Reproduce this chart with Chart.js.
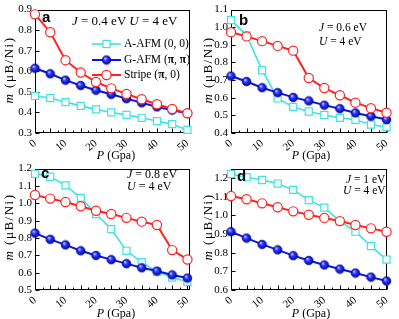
<!DOCTYPE html>
<html lang="en">
<head>
  <meta charset="UTF-8">
  <title>Magnetic moment vs pressure</title>
  <script src="https://cdn.jsdelivr.net/npm/chart.js"></script>
  <style>
    body {
      margin: 0;
      padding: 0;
      background: #fff;
      font-family: 'Liberation Serif', serif;
    }
    #wrap {
      position: relative;
      width: 399px;
      height: 319px;
      overflow: hidden;
    }
    canvas {
      position: absolute;
    }
    .txt {
      position: absolute;
      white-space: nowrap;
      color: #000;
      line-height: 1;
    }
    .ytitle {
      font-size: 13px;
      letter-spacing: 1.5px;
      transform: translate(-50%, -50%) rotate(-90deg);
    }
    .xtitle {
      font-size: 12px;
      transform: translate(-50%, -50%);
    }
    .tag {
      font-family: 'Liberation Sans', sans-serif;
      font-weight: bold;
      font-size: 15px;
    }
    .leg {
      font-size: 11.5px;
      transform: translateY(-50%);
    }
  </style>
</head>
<body>
  <div id="wrap">
    <canvas id="chartA" width="200" height="160" style="left:0;top:0"></canvas>
    <canvas id="chartB" width="200" height="160" style="left:199px;top:0"></canvas>
    <canvas id="chartC" width="200" height="160" style="left:0;top:159px"></canvas>
    <canvas id="chartD" width="200" height="160" style="left:199px;top:159px"></canvas>

    <div class="txt ytitle" style="left:8px;top:70px"><i>m</i> (μB/Ni)</div>
    <div class="txt ytitle" style="left:207px;top:70px"><i>m</i> (μB/Ni)</div>
    <div class="txt ytitle" style="left:8px;top:227px"><i>m</i> (μB/Ni)</div>
    <div class="txt ytitle" style="left:207px;top:227px"><i>m</i> (μB/Ni)</div>

    <div class="txt xtitle" style="left:116px;top:155px"><i>P</i> (Gpa)</div>
    <div class="txt xtitle" style="left:311px;top:155px"><i>P</i> (Gpa)</div>
    <div class="txt xtitle" style="left:116px;top:313px"><i>P</i> (Gpa)</div>
    <div class="txt xtitle" style="left:311px;top:313px"><i>P</i> (Gpa)</div>

    <div class="txt tag" style="left:42px;top:9px">a</div>
    <div class="txt tag" style="left:239px;top:12px">b</div>
    <div class="txt tag" style="left:41px;top:165px">c</div>
    <div class="txt tag" style="left:237px;top:168px">d</div>

    <div class="txt" style="left:72px;top:14px;font-size:13px"><i>J</i> = 0.4 eV <i>U</i> = 4 eV</div>
    <div class="txt" style="left:319px;top:22px;font-size:11.5px"><i>J</i> = 0.6 eV</div>
    <div class="txt" style="left:319px;top:36px;font-size:11.5px"><i>U</i> = 4 eV</div>
    <div class="txt" style="left:127px;top:168px;font-size:12px"><i>J</i> = 0.8 eV</div>
    <div class="txt" style="left:127px;top:180px;font-size:12px"><i>U</i> = 4 eV</div>
    <div class="txt" style="left:346px;top:174px;font-size:11.5px"><i>J</i> = 1 eV</div>
    <div class="txt" style="left:343px;top:185px;font-size:11.5px"><i>U</i> = 4 eV</div>

    <div class="txt leg" style="left:124px;top:44px">A-AFM (0, 0)</div>
    <div class="txt leg" style="left:124px;top:60px">G-AFM (<b>π</b>, <b>π</b>)</div>
    <div class="txt leg" style="left:124px;top:75px">Stripe (<b>π</b>, 0)</div>
  </div>
  <script>
    const pressure = [0, 5, 10, 15, 20, 25, 30, 35, 40, 45, 50];

    // (a) J = 0.4 eV
    const aAfmA = [0.48, 0.47, 0.45, 0.432, 0.415, 0.40, 0.388, 0.374, 0.358, 0.343, 0.315];
    const gAfmA = [0.615, 0.588, 0.557, 0.531, 0.508, 0.488, 0.467, 0.447, 0.427, 0.411, 0.396];
    const stripeA = [0.877, 0.79, 0.654, 0.594, 0.548, 0.517, 0.49, 0.464, 0.44, 0.417, 0.396];
    // (b) J = 0.6 eV
    const aAfmB = [1.04, 0.954, 0.756, 0.596, 0.548, 0.522, 0.502, 0.486, 0.475, 0.448, 0.433];
    const gAfmB = [0.723, 0.692, 0.657, 0.629, 0.602, 0.582, 0.558, 0.538, 0.514, 0.495, 0.476];
    const stripeB = [0.972, 0.948, 0.921, 0.894, 0.867, 0.712, 0.655, 0.614, 0.572, 0.541, 0.515];
    // (c) J = 0.8 eV
    const aAfmC = [1.17, 1.153, 1.103, 1.031, 0.938, 0.851, 0.726, 0.661, 0.606, 0.572, 0.547];
    const gAfmC = [0.828, 0.792, 0.76, 0.726, 0.699, 0.675, 0.652, 0.628, 0.609, 0.587, 0.569];
    const stripeC = [1.048, 1.027, 1.007, 0.983, 0.957, 0.938, 0.916, 0.894, 0.875, 0.73, 0.676];
    // (d) J = 1 eV
    const aAfmD = [1.221, 1.204, 1.189, 1.17, 1.136, 1.081, 1.041, 0.969, 0.912, 0.835, 0.763];
    const gAfmD = [0.912, 0.878, 0.844, 0.815, 0.784, 0.758, 0.734, 0.712, 0.691, 0.669, 0.648];
    const stripeD = [1.103, 1.086, 1.064, 1.043, 1.021, 1.003, 0.986, 0.969, 0.948, 0.93, 0.912];

    const seriesNames = ['A-AFM (0, 0)', 'G-AFM (π, π)', 'Stripe (π, 0)'];
    const xTicks = [0, 50, 5];

    const CYAN = '#3fe3e3';
    const BLUE = '#0a14e6';
    const RED = '#ff2222';

    // shaded blue ball used as point style for G-AFM
    function makeBall(r) {
      const c = document.createElement('canvas');
      const s = Math.ceil(r * 2) + 2;
      c.width = s;
      c.height = s;
      const g = c.getContext('2d');
      const m = s / 2;
      const grad = g.createRadialGradient(m - r * 0.35, m - r * 0.4, 0.3, m, m, r);
      grad.addColorStop(0, '#d8dcff');
      grad.addColorStop(0.35, '#3040ff');
      grad.addColorStop(1, '#00069a');
      g.fillStyle = grad;
      g.beginPath();
      g.arc(m, m, r, 0, Math.PI * 2);
      g.fill();
      g.strokeStyle = '#0000b0';
      g.lineWidth = 0.8;
      g.stroke();
      return c;
    }
    const ball = makeBall(4.3);

    function pts(vals) {
      return pressure.map((p, i) => ({ x: p, y: vals[i] }));
    }

    const frameTicks = {
      id: 'frameTicks',
      beforeDatasetsDraw(chart) {
        const { ctx, chartArea: a, scales: { x, y } } = chart;
        ctx.save();
        ctx.strokeStyle = '#000';
        ctx.lineWidth = 1;
        const L = Math.round(a.left) + 0.5, R = Math.round(a.right) - 0.5;
        const T = Math.round(a.top) + 0.5, B = Math.round(a.bottom) - 0.5;
        ctx.strokeRect(L, T, R - L, B - T);
        ctx.beginPath();
        for (let v = xTicks[0]; v <= xTicks[1]; v += xTicks[2] / 2) {
          const px = Math.round(x.getPixelForValue(v)) + 0.5;
          const len = (v % xTicks[2] === 0) ? 4 : 2;
          ctx.moveTo(px, B);
          ctx.lineTo(px, B - len);
        }
        y.ticks.forEach(t => {
          const py = Math.round(y.getPixelForValue(t.value)) + 0.5;
          ctx.moveTo(L, py);
          ctx.lineTo(L + 4, py);
        });
        ctx.stroke();
        ctx.restore();
      }
    };

    const legendSymbols = {
      id: 'legendSymbols',
      afterDraw(chart) {
        const ctx = chart.ctx;
        const rows = [44, 60, 75];
        const x0 = 92, x1 = 121, xm = 106.5;
        chart.data.datasets.forEach((ds, i) => {
          const yy = rows[i];
          ctx.save();
          ctx.strokeStyle = ds.borderColor;
          ctx.lineWidth = ds.borderWidth;
          ctx.beginPath();
          ctx.moveTo(x0, yy);
          ctx.lineTo(x1, yy);
          ctx.stroke();
          if (ds.pointStyle === 'rect') {
            const h = ds.pointRadius * Math.SQRT1_2;
            ctx.fillStyle = '#fff';
            ctx.lineWidth = ds.pointBorderWidth;
            ctx.fillRect(xm - h, yy - h, 2 * h, 2 * h);
            ctx.strokeRect(xm - h, yy - h, 2 * h, 2 * h);
          } else if (ds.pointStyle === 'circle') {
            ctx.fillStyle = '#fff';
            ctx.lineWidth = ds.pointBorderWidth;
            ctx.beginPath();
            ctx.arc(xm, yy, ds.pointRadius, 0, Math.PI * 2);
            ctx.fill();
            ctx.stroke();
          } else {
            ctx.drawImage(ds.pointStyle, xm - ds.pointStyle.width / 2, yy - ds.pointStyle.height / 2);
          }
          ctx.restore();
        });
      }
    };

    function oneDecimal(value) {
      return Number(value).toFixed(1);
    }

    function makeChart(id, aAfm, gAfm, stripe, yMin, yMax, xMax, box, withLegend) {
      const ctx = document.getElementById(id).getContext('2d');
      return new Chart(ctx, {
        type: 'line',
        data: {
          datasets: [{
            label: seriesNames[0],
            data: pts(aAfm),
            borderColor: CYAN,
            borderWidth: 1.6,
            pointStyle: 'rect',
            pointRadius: 5,
            pointBorderWidth: 1.2,
            pointBorderColor: CYAN,
            pointBackgroundColor: '#fff',
            order: 3,
            clip: false
          }, {
            label: seriesNames[1],
            data: pts(gAfm),
            borderColor: BLUE,
            borderWidth: 2,
            pointStyle: ball,
            pointRadius: 4.3,
            pointBorderWidth: 0,
            order: 2,
            clip: false
          }, {
            label: seriesNames[2],
            data: pts(stripe),
            borderColor: RED,
            borderWidth: 2,
            pointStyle: 'circle',
            pointRadius: 4.6,
            pointBorderWidth: 1.2,
            pointBorderColor: RED,
            pointBackgroundColor: '#fff',
            order: 1,
            clip: false
          }]
        },
        options: {
          responsive: false,
          animation: false,
          layout: { padding: { top: box.top, right: box.right, left: 0, bottom: 0 } },
          plugins: { legend: { display: false }, tooltip: { enabled: false } },
          scales: {
            x: {
              type: 'linear',
              min: xTicks[0],
              max: xMax,
              grid: { display: false, drawTicks: false },
              border: { display: false },
              afterFit: s => { s.height = box.xh; },
              ticks: {
                stepSize: xTicks[2],
                includeBounds: false,
                padding: 4,
                color: '#000',
                font: { family: 'Liberation Serif', size: 11 }
              }
            },
            y: {
              type: 'linear',
              min: yMin,
              max: yMax,
              grid: { display: false, drawTicks: false },
              border: { display: false },
              afterFit: s => { s.width = box.yw; },
              afterTickToLabelConversion: s => {
                s.ticks.forEach(t => { t.label = oneDecimal(t.value); });
              },
              ticks: {
                stepSize: 0.1,
                includeBounds: false,
                padding: 3,
                color: '#000',
                font: { family: 'Liberation Serif', size: 11 },
                callback: oneDecimal
              }
            }
          }
        },
        plugins: withLegend ? [frameTicks, legendSymbols] : [frameTicks]
      });
    }

    makeChart('chartA', aAfmA, gAfmA, stripeA, 0.3, 0.9, 51, { top: 5, right: 2, xh: 27, yw: 35 }, true);
    makeChart('chartB', aAfmB, gAfmB, stripeB, 0.4, 1.1, 50.2, { top: 6, right: 8, xh: 27, yw: 32 }, false);
    makeChart('chartC', aAfmC, gAfmC, stripeC, 0.5, 1.2, 51, { top: 4, right: 2, xh: 29, yw: 35 }, false);
    makeChart('chartD', aAfmD, gAfmD, stripeD, 0.6, 1.25, 50.2, { top: 3, right: 7.5, xh: 29, yw: 32 }, false);
  </script>
</body>
</html>
